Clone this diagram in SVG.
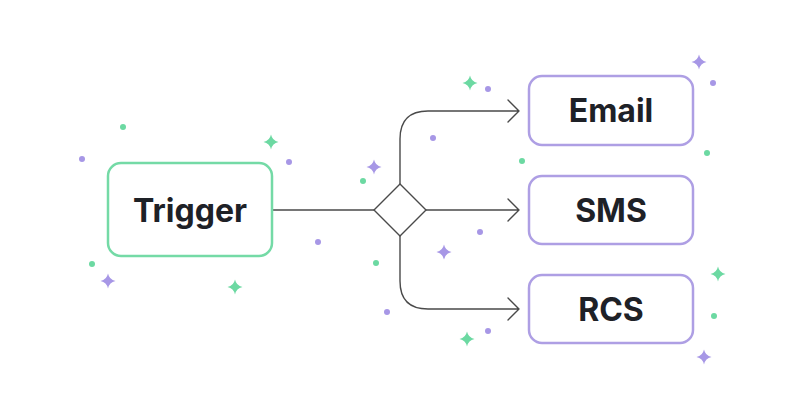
<svg xmlns="http://www.w3.org/2000/svg" xmlns:xlink="http://www.w3.org/1999/xlink" width="800" height="420" viewBox="0 0 800 420">
<style>
.lbl{font-family:Inter,"Liberation Sans",sans-serif;font-weight:700;font-size:32px;fill:#1E2127;text-anchor:middle;dominant-baseline:central}
.g{fill:#6CD9A2}.p{fill:#A797E6}
.box-g{fill:#fff;stroke:#74DAA6;stroke-width:2.5}
.box-p{fill:#fff;stroke:#AE9FE4;stroke-width:2.5}
.ln{fill:none;stroke:#4A4A4A;stroke-width:1.4;stroke-linejoin:round;stroke-linecap:round}
</style>
<defs>
<path id="star" d="M0,-7.5 Q1.3,-1.3 7.5,0 Q1.3,1.3 0,7.5 Q-1.3,1.3 -7.5,0 Q-1.3,-1.3 0,-7.5Z"/>
</defs>
<rect width="800" height="420" fill="#fff"/>
<g id="decor">
<circle class="g" cx="123" cy="127" r="3"/>
<circle class="p" cx="82" cy="159" r="3"/>
<use href="#star" class="g" x="271" y="142"/>
<circle class="p" cx="289" cy="162" r="3"/>
<circle class="g" cx="92" cy="264" r="3"/>
<use href="#star" class="p" x="108" y="281"/>
<use href="#star" class="g" x="235" y="287"/>
<circle class="p" cx="318" cy="242" r="3"/>
<use href="#star" class="g" x="470" y="83"/>
<circle class="p" cx="488" cy="89" r="3"/>
<circle class="p" cx="433" cy="138" r="3"/>
<use href="#star" class="p" x="374" y="167"/>
<circle class="g" cx="363" cy="181" r="3"/>
<circle class="g" cx="522" cy="161" r="3"/>
<circle class="p" cx="480" cy="232" r="3"/>
<use href="#star" class="p" x="444" y="252"/>
<circle class="g" cx="376" cy="263" r="3"/>
<circle class="p" cx="387" cy="312" r="3"/>
<use href="#star" class="g" x="467" y="339"/>
<circle class="p" cx="488" cy="331" r="3"/>
<use href="#star" class="p" x="699" y="62"/>
<circle class="p" cx="713" cy="83" r="3"/>
<circle class="g" cx="707" cy="153" r="3"/>
<use href="#star" class="g" x="718" y="274"/>
<circle class="g" cx="714" cy="316" r="3"/>
<use href="#star" class="p" x="704" y="357"/>
</g>
<g id="connectors">
<path class="ln" d="M272,210 H374"/>
<path class="ln" d="M426,210 H519 M508,199 L519,210 L508,221"/>
<path class="ln" d="M400,184 V139 Q400,111 428,111 H519 M508,100 L519,111 L508,122"/>
<path class="ln" d="M400,236 V281 Q400,309 428,309 H519 M508,298 L519,309 L508,320"/>
</g>
<g id="decision">
<path class="ln" d="M400,184 L426,210 L400,236 L374,210 Z" style="fill:#fff"/>
</g>
<g id="trigger">
<rect class="box-g" x="108" y="163" width="164" height="93" rx="13"/>
<text class="lbl" x="190" y="210">Trigger</text>
</g>
<g id="email">
<rect class="box-p" x="529" y="76" width="164" height="69" rx="13"/>
<text class="lbl" x="611" y="110.5">Email</text>
</g>
<g id="sms">
<rect class="box-p" x="529" y="176" width="164" height="68" rx="13"/>
<text class="lbl" x="611" y="210">SMS</text>
</g>
<g id="rcs">
<rect class="box-p" x="529" y="275" width="164" height="68" rx="13"/>
<text class="lbl" x="611" y="309">RCS</text>
</g>
</svg>
